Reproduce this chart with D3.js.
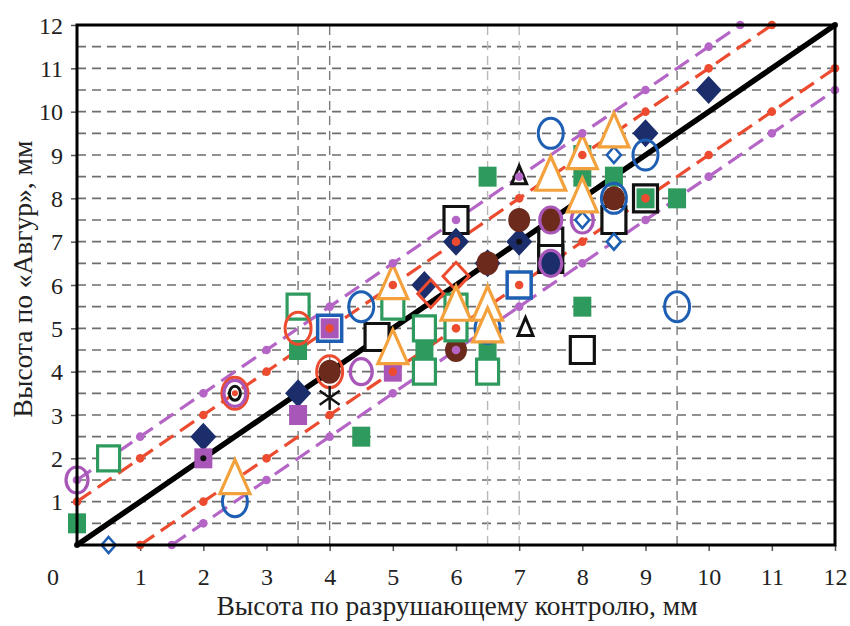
<!DOCTYPE html>
<html>
<head>
<meta charset="utf-8">
<script src="https://cdn.jsdelivr.net/npm/d3@7"></script>
<style>
  body { margin: 0; background: #fff; }
  text { font-family: "Liberation Serif", "DejaVu Serif", serif; fill: #222; }
</style>
</head>
<body>
<div id="chart"></div>
<script>
// axis ticks and gridlines
var xTicks = [1, 2, 3, 4, 5, 6, 7, 8, 9, 10, 11, 12],
    yTicks = [1, 2, 3, 4, 5, 6, 7, 8, 9, 10, 11, 12],
    gridY = [0.5, 1, 1.5, 2, 2.5, 3, 3.5, 4, 4.5, 5, 5.5, 6, 6.5, 7, 7.5, 8, 8.5, 9, 9.5, 10, 10.5, 11, 11.5],
    gridX = [3.5, 4, 6.5, 7, 9.5];

// reference lines
var lineBlack = [[0, 0], [1, 1], [2, 2], [3, 3], [4, 4], [5, 5], [6, 6], [7, 7], [8, 8], [9, 9], [10, 10], [11, 11], [12, 12]];
var redUpper = [[0, 1], [1, 2], [2, 3], [3, 4], [4, 5], [5, 6], [6, 7], [7, 8], [8, 9], [9, 10], [10, 11], [11, 12]];
var redLower = [[1, 0], [2, 1], [3, 2], [4, 3], [5, 4], [6, 5], [7, 6], [8, 7], [9, 8], [10, 9], [11, 10], [12, 11]];
var purpleUpper = [[0, 1.5], [1, 2.5], [2, 3.5], [3, 4.5], [4, 5.5], [5, 6.5], [6, 7.5], [7, 8.5], [8, 9.5], [9, 10.5], [10, 11.5], [10.5, 12]];
var purpleLower = [[1.5, 0], [2, 0.5], [3, 1.5], [4, 2.5], [5, 3.5], [6, 4.5], [7, 5.5], [8, 6.5], [9, 7.5], [10, 8.5], [11, 9.5], [12, 10.5]];

// measurement series
var blackSquares = [[4.75, 4.8], [6, 7.5], [8, 4.5], [7.5, 7], [7.5, 6.6], [8.5, 7.5], [9, 8]];
var greenFilled = [[0, 0.5], [3.5, 4.5], [4.5, 2.5], [5.5, 4.5], [6.5, 8.5], [6.5, 4.5], [8, 5.5], [8, 9], [8, 8.5], [8.5, 8.5], [9, 8], [9.5, 8]];
var navyDiamonds = [[2, 2.5], [3.5, 3.5], [5.5, 6], [6, 7], [6.5, 6.5], [7, 7], [9, 9.5], [10, 10.5]];
var maroonCircles = [[4, 4], [6, 4.5], [6.5, 6.5], [7, 7.5], [7.5, 7.5], [8.5, 8]];
var navyCircles = [[7.5, 6.5]];
var purpleFilled = [[2, 2], [3.5, 3], [4, 5], [5, 4]];
var blueSquares = [[4, 5], [7, 6]];
var greenOpen = [[0.5, 2], [3.5, 5.5], [5, 5.5], [5.5, 5], [5.5, 4], [6, 5.5], [6, 5], [6.5, 4]];
var redDiamonds = [[5.6, 5.8], [6, 6.2]];
var redCircles = [[2.5, 3.5], [3.5, 5], [4, 4]];
var purpleCircles = [[0, 1.5], [2.5, 3.5], [4.5, 4], [7.5, 7.5], [7.5, 6.5], [8, 7.5]];
var blueCircles = [[2.5, 1], [4.5, 5.5], [6.5, 5], [7.5, 9.5], [8.5, 8], [9, 9], [9.5, 5.5]];
var blueDiamonds = [[0.5, 0], [8, 7.5], [8.5, 7], [8.5, 9]];
var blackTriangles = [[7, 8.5], [7.1, 5]];
var blackRings = [[2.5, 3.5]];
var asterisks = [[4, 3.4]];
var orangeTriangles = [[2.5, 1.5], [5, 6], [5, 4.5], [6, 5.5], [6.5, 5.5], [6.5, 5], [7.5, 8.5], [8, 9], [8, 8], [8.5, 9.5]];

var col = {
    green: "#2f9a5e", navy: "#1b2d6b", maroon: "#6b2a1c", purple: "#a857b9",
    purpleLine: "#b565c6", red: "#ec4b2f", orange: "#f3a13c", blue: "#1e5fb4"
};

var svg = d3.select("#chart").append("svg").attr("width", 850).attr("height", 626);

var x = d3.scaleLinear().domain([0, 12]).range([77, 835]);
var y = d3.scaleLinear().domain([0, 12]).range([545, 25]);

// gridlines
svg.append("g").selectAll("line").data(gridY).enter().append("line")
    .attr("x1", x(0)).attr("x2", x(12))
    .attr("y1", d => y(d)).attr("y2", d => y(d))
    .attr("stroke", "#6e6e6e").attr("stroke-width", 1.6).attr("stroke-dasharray", "9,6");
svg.append("g").selectAll("line").data(gridX).enter().append("line")
    .attr("x1", d => x(d)).attr("x2", d => x(d))
    .attr("y1", y(0)).attr("y2", y(12))
    .attr("stroke", d => (d == 6.5 || d == 7) ? "#b8b8b8" : "#7a7a7a")
    .attr("stroke-width", 1.4).attr("stroke-dasharray", "9,6");

// axes ticks
var xAxis = d3.axisBottom(x).tickValues(xTicks).tickSize(6).tickFormat(d3.format("d"));
var gx = svg.append("g").attr("transform", "translate(0," + y(0) + ")").call(xAxis);
var yAxis = d3.axisLeft(y).tickValues(yTicks).tickSize(6).tickFormat(d3.format("d"));
var gy = svg.append("g").attr("transform", "translate(" + x(0) + ",0)").call(yAxis);
[gx, gy].forEach(function (g) {
    g.attr("font-size", null).attr("font-family", null);
    g.select(".domain").remove();
    g.selectAll(".tick line").attr("stroke", "#555").attr("stroke-width", 1.5);
    g.selectAll(".tick text").style("font-size", "24px").attr("fill", "#222");
});
gx.selectAll(".tick text").attr("dy", null).attr("y", 40);
gy.selectAll(".tick text").attr("x", -14).attr("dy", "0.34em");
svg.append("text").attr("x", 53).attr("y", y(0) + 40).attr("text-anchor", "middle")
    .style("font-size", "24px").text("0");

// reference lines
var line = d3.line().x(d => x(d[0])).y(d => y(d[1]));
[[purpleUpper, col.purpleLine], [purpleLower, col.purpleLine], [redUpper, col.red], [redLower, col.red]].forEach(function (s) {
    svg.append("path").datum(s[0]).attr("d", line).attr("fill", "none")
        .attr("stroke", s[1]).attr("stroke-width", 3.2).attr("stroke-dasharray", "17,8");
});
svg.append("path").datum(lineBlack).attr("d", line).attr("fill", "none")
    .attr("stroke", "#000").attr("stroke-width", 5.5);

// marker helpers
function put(sel, data) {
    return svg.append("g").selectAll("path").data(data).enter().append("path")
        .attr("transform", d => "translate(" + x(d[0]) + "," + y(d[1]) + ")");
}
function rect(w, h) { return "M" + (-w / 2) + "," + (-h / 2) + "h" + w + "v" + h + "h" + (-w) + "Z"; }
function diamond(w, h) { return "M0," + (-h / 2) + "L" + (w / 2) + ",0L0," + (h / 2) + "L" + (-w / 2) + ",0Z"; }
function tri(w, h) { return "M0," + (-h * 0.6) + "L" + (w / 2) + "," + (h * 0.4) + "L" + (-w / 2) + "," + (h * 0.4) + "Z"; }
function ell(rx, ry) {
    return "M" + (-rx) + ",0A" + rx + "," + ry + " 0 1,0 " + rx + ",0A" + rx + "," + ry + " 0 1,0 " + (-rx) + ",0Z";
}

put(svg, blackSquares).attr("d", rect(24, 27)).attr("fill", "#fff").attr("stroke", "#111").attr("stroke-width", 3.2);
put(svg, greenFilled).attr("d", rect(18, 20)).attr("fill", col.green);
put(svg, navyDiamonds).attr("d", diamond(26, 28)).attr("fill", col.navy);
put(svg, maroonCircles).attr("d", ell(11, 12)).attr("fill", col.maroon);
put(svg, navyCircles).attr("d", ell(11, 12)).attr("fill", col.navy);
put(svg, blueSquares).attr("d", rect(24, 26)).attr("fill", "#fff").attr("stroke", col.blue).attr("stroke-width", 3.5);
put(svg, purpleFilled).attr("d", rect(18, 20)).attr("fill", col.purple);
put(svg, greenOpen).attr("d", rect(22, 25)).attr("fill", "#fff").attr("stroke", col.green).attr("stroke-width", 3.2);
put(svg, redDiamonds).attr("d", diamond(26, 28)).attr("fill", "none").attr("stroke", col.red).attr("stroke-width", 3);
put(svg, redCircles).attr("d", ell(13, 16)).attr("fill", "none").attr("stroke", col.red).attr("stroke-width", 3);
put(svg, purpleCircles).attr("d", ell(11, 13)).attr("fill", "none").attr("stroke", col.purple).attr("stroke-width", 3.2);
put(svg, blueCircles).attr("d", ell(12.5, 15)).attr("fill", "none").attr("stroke", col.blue).attr("stroke-width", 3);
put(svg, blueDiamonds).attr("d", diamond(14, 16)).attr("fill", "#fff").attr("stroke", col.blue).attr("stroke-width", 2.6);
put(svg, blackTriangles).attr("d", tri(15, 18)).attr("fill", "#fff").attr("stroke", "#111").attr("stroke-width", 3);
put(svg, blackRings).attr("d", ell(5.5, 7)).attr("fill", "#fff").attr("stroke", "#111").attr("stroke-width", 3);
put(svg, asterisks).attr("d", "M0,-12V12M-10,-7L10,7M-10,7L10,-7").attr("fill", "none")
    .attr("stroke", "#111").attr("stroke-width", 2.4);
put(svg, orangeTriangles).attr("d", tri(30, 34)).attr("fill", "#fff").attr("stroke", col.orange)
    .attr("stroke-width", 3.2).attr("stroke-linejoin", "miter");

// line markers on top
function dots(data, c, r) {
    svg.append("g").selectAll("circle").data(data).enter().append("circle")
        .attr("cx", d => x(d[0])).attr("cy", d => y(d[1])).attr("r", r).attr("fill", c);
}
dots(purpleUpper, col.purpleLine, 4.3);
dots(purpleLower, col.purpleLine, 4.3);
dots(redUpper, col.red, 4.3);
dots(redLower, col.red, 4.3);
dots(redCircles.slice(0, 1), col.red, 3);
dots([lineBlack[0], lineBlack[2], lineBlack[7], lineBlack[12]], "#111", 3);

// frame
svg.append("rect").attr("x", x(0)).attr("y", y(12)).attr("width", x(12) - x(0)).attr("height", y(0) - y(12))
    .attr("fill", "none").attr("stroke", "#000").attr("stroke-width", 3);

// titles
svg.append("text").attr("x", 457).attr("y", 615).attr("text-anchor", "middle")
    .style("font-size", "27.5px").text("Высота по разрушающему контролю, мм");
svg.append("text").attr("transform", "translate(32,279) rotate(-90)").attr("text-anchor", "middle")
    .style("font-size", "27.5px").text("Высота по «Авгур», мм");
</script>
</body>
</html>
